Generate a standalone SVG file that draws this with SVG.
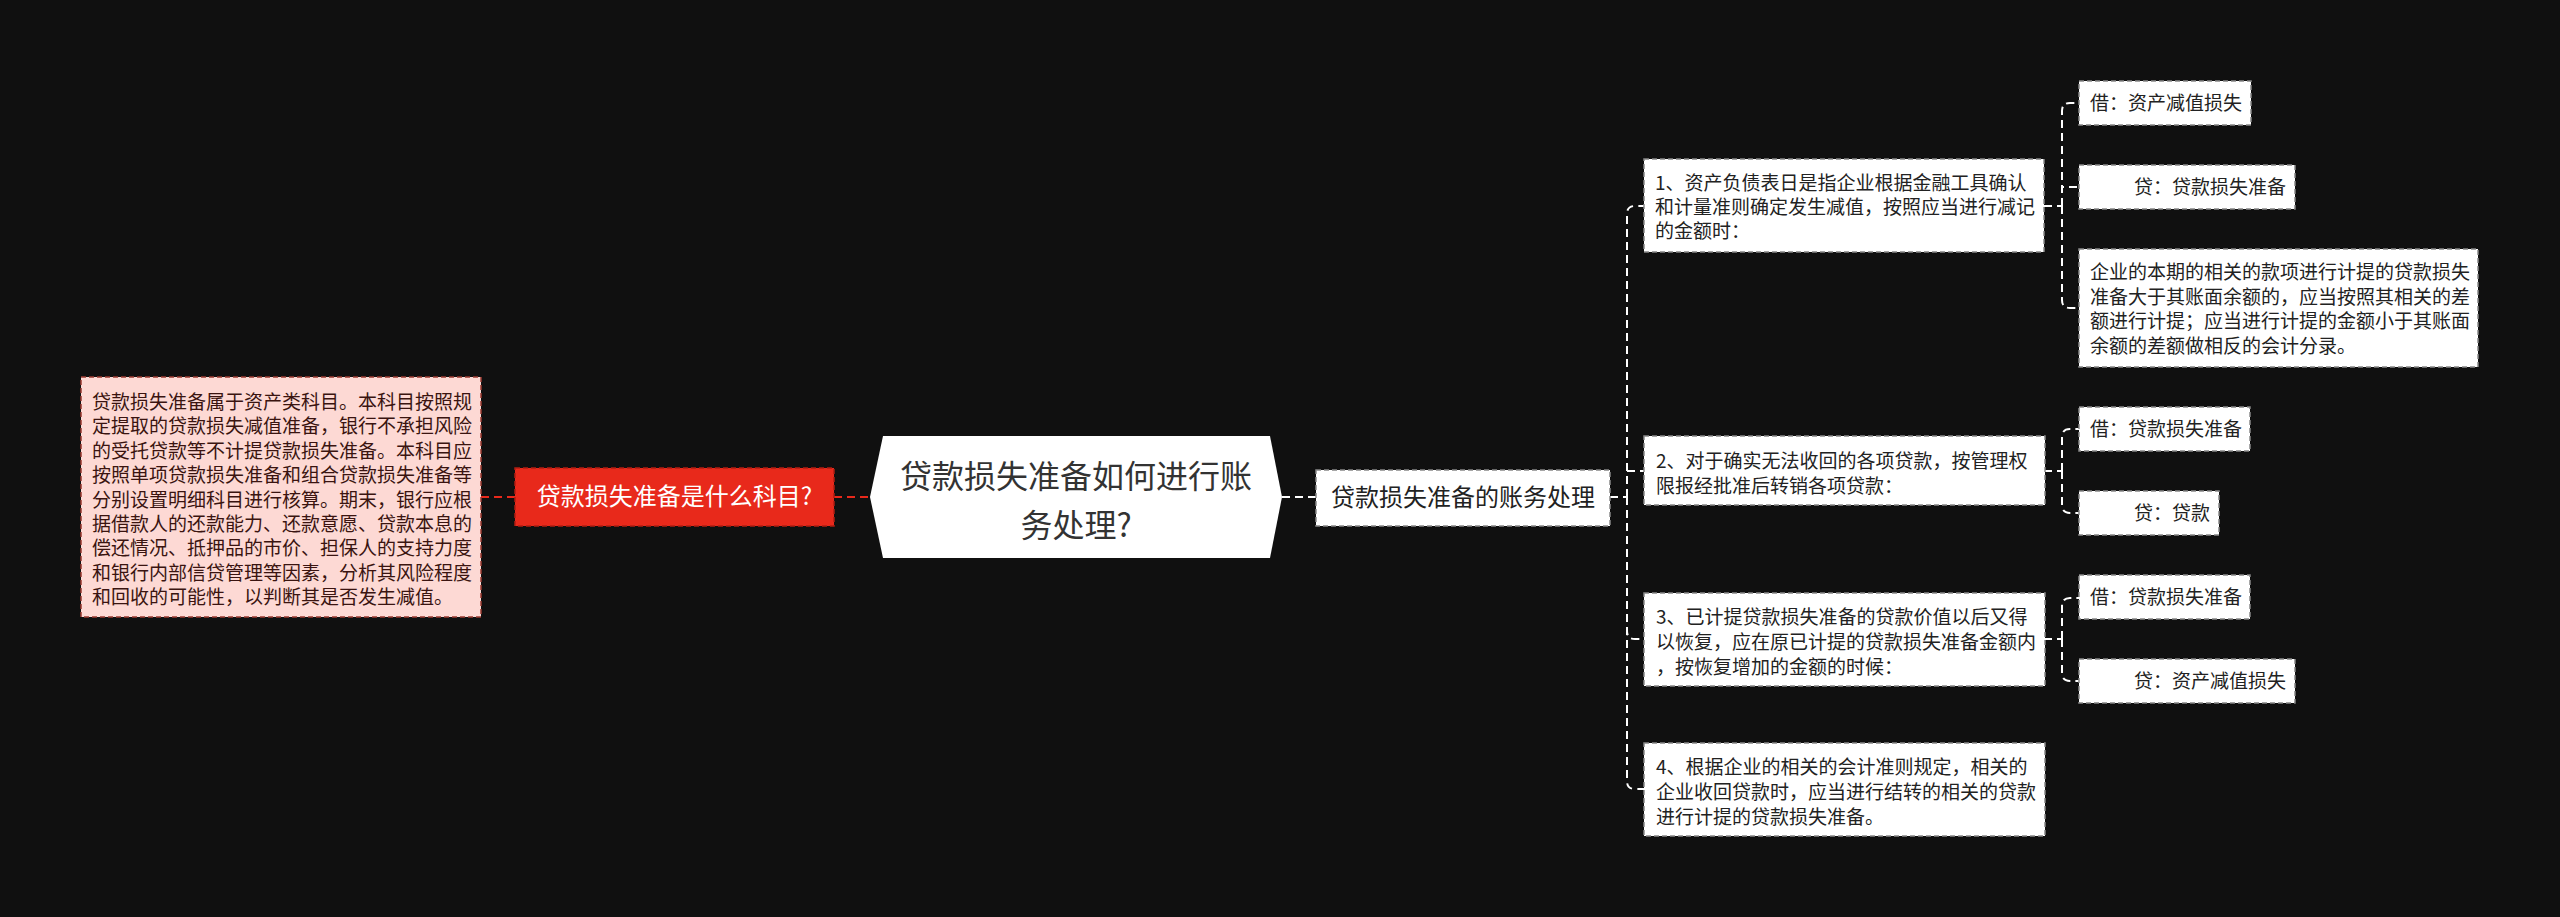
<svg xmlns="http://www.w3.org/2000/svg" width="2560" height="917" viewBox="0 0 2560 917">
<style>
text{font-family:"Noto Sans CJK SC","Noto Sans",sans-serif;}
.t19{font-size:19px;fill:#222;}
.lt{font-size:19px;fill:#3a1410;}
.box{fill:#fff;stroke:#888;stroke-width:1.5;stroke-dasharray:5 3;}
.lbox{fill:#fdd9d4;stroke:#9a3a30;stroke-width:1.5;stroke-dasharray:5 3;}
.rbox{fill:#e8291b;stroke:#b01d12;stroke-width:1.5;stroke-dasharray:5 3;}
.cw{fill:none;stroke:#fff;stroke-width:2;stroke-dasharray:8 5;}
.cr{fill:none;stroke:#e8291b;stroke-width:2;stroke-dasharray:8 5;}
</style>
<rect width="2560" height="917" fill="#101010"/>
<g id="connectors">
<path class="cr" d="M481 497 H515"/>
<path class="cr" d="M834 497 H870"/>
<path class="cw" d="M1282 497 H1316"/>
<path class="cw" d="M1610 497 H1627"/>
<path class="cw" d="M1627 497 V214 Q1627 206 1635 206 H1644"/>
<path class="cw" d="M1627 497 V471 H1644"/>
<path class="cw" d="M1627 497 V631 Q1627 639 1635 639 H1644"/>
<path class="cw" d="M1627 497 V781 Q1627 789 1635 789 H1644"/>
<path class="cw" d="M2044 206 H2062"/>
<path class="cw" d="M2062 206 V111 Q2062 103 2070 103 H2079"/>
<path class="cw" d="M2062 206 V187 H2079"/>
<path class="cw" d="M2062 206 V300 Q2062 308 2070 308 H2079"/>
<path class="cw" d="M2044 471 H2062"/>
<path class="cw" d="M2062 471 V437 Q2062 429 2070 429 H2079"/>
<path class="cw" d="M2062 471 V505 Q2062 513 2070 513 H2079"/>
<path class="cw" d="M2044 639 H2062"/>
<path class="cw" d="M2062 639 V606 Q2062 598 2070 598 H2079"/>
<path class="cw" d="M2062 639 V673 Q2062 681 2070 681 H2079"/>
</g>
<g id="left-note">
<rect class="lbox" x="81" y="377" width="400" height="240"/>
<text class="lt" x="92">
<tspan x="92" y="409">贷款损失准备属于资产类科目。本科目按照规</tspan>
<tspan x="92" y="433.4">定提取的贷款损失减值准备，银行不承担风险</tspan>
<tspan x="92" y="457.8">的受托贷款等不计提贷款损失准备。本科目应</tspan>
<tspan x="92" y="482.2">按照单项贷款损失准备和组合贷款损失准备等</tspan>
<tspan x="92" y="506.6">分别设置明细科目进行核算。期末，银行应根</tspan>
<tspan x="92" y="531">据借款人的还款能力、还款意愿、贷款本息的</tspan>
<tspan x="92" y="555.4">偿还情况、抵押品的市价、担保人的支持力度</tspan>
<tspan x="92" y="579.8">和银行内部信贷管理等因素，分析其风险程度</tspan>
<tspan x="92" y="604.2">和回收的可能性，以判断其是否发生减值。</tspan>
</text>
</g>
<g id="red-node">
<rect class="rbox" x="515" y="468" width="319" height="58"/>
<text x="674.5" y="505" text-anchor="middle" font-size="24" fill="#fff">贷款损失准备是什么科目?</text>
</g>
<g id="center">
<polygon points="870,497 883,436 1270,436 1282,497 1270,558 883,558" fill="#fff"/>
<text x="1076" y="488" text-anchor="middle" font-size="32" fill="#333">贷款损失准备如何进行账</text>
<text x="1076" y="537" text-anchor="middle" font-size="32" fill="#333">务处理?</text>
</g>
<g id="accounting">
<rect class="box" x="1316" y="470" width="294" height="56"/>
<text x="1463" y="505.5" text-anchor="middle" font-size="24" fill="#222">贷款损失准备的账务处理</text>
</g>
<g id="item1">
<rect class="box" x="1644" y="159" width="400" height="93"/>
<text class="t19"><tspan x="1655" y="190">1、资产负债表日是指企业根据金融工具确认</tspan><tspan x="1655" y="214">和计量准则确定发生减值，按照应当进行减记</tspan><tspan x="1655" y="238">的金额时：</tspan></text>
</g>
<g id="item1-debit">
<rect class="box" x="2079" y="81" width="172" height="44"/>
<text class="t19" x="2090" y="110">借：资产减值损失</text>
</g>
<g id="item1-credit">
<rect class="box" x="2079" y="165" width="216" height="44"/>
<text class="t19" x="2134" y="194">贷：贷款损失准备</text>
</g>
<g id="item1-note">
<rect class="box" x="2079" y="249" width="399" height="118"/>
<text class="t19"><tspan x="2090" y="279">企业的本期的相关的款项进行计提的贷款损失</tspan><tspan x="2090" y="303.5">准备大于其账面余额的，应当按照其相关的差</tspan><tspan x="2090" y="328">额进行计提；应当进行计提的金额小于其账面</tspan><tspan x="2090" y="352.5">余额的差额做相反的会计分录。</tspan></text>
</g>
<g id="item2">
<rect class="box" x="1644" y="436" width="401" height="69"/>
<text class="t19"><tspan x="1656" y="468">2、对于确实无法收回的各项贷款，按管理权</tspan><tspan x="1656" y="493">限报经批准后转销各项贷款：</tspan></text>
</g>
<g id="item2-debit">
<rect class="box" x="2079" y="407" width="171" height="44"/>
<text class="t19" x="2090" y="436">借：贷款损失准备</text>
</g>
<g id="item2-credit">
<rect class="box" x="2079" y="491" width="140" height="44"/>
<text class="t19" x="2134" y="520">贷：贷款</text>
</g>
<g id="item3">
<rect class="box" x="1644" y="593" width="401" height="93"/>
<text class="t19"><tspan x="1656" y="624">3、已计提贷款损失准备的贷款价值以后又得</tspan><tspan x="1656" y="649">以恢复，应在原已计提的贷款损失准备金额内</tspan><tspan x="1656" y="674">，按恢复增加的金额的时候：</tspan></text>
</g>
<g id="item3-debit">
<rect class="box" x="2079" y="575" width="171" height="44"/>
<text class="t19" x="2090" y="604">借：贷款损失准备</text>
</g>
<g id="item3-credit">
<rect class="box" x="2079" y="659" width="216" height="44"/>
<text class="t19" x="2134" y="688">贷：资产减值损失</text>
</g>
<g id="item4">
<rect class="box" x="1644" y="743" width="401" height="93"/>
<text class="t19"><tspan x="1656" y="774">4、根据企业的相关的会计准则规定，相关的</tspan><tspan x="1656" y="799">企业收回贷款时，应当进行结转的相关的贷款</tspan><tspan x="1656" y="824">进行计提的贷款损失准备。</tspan></text>
</g>
</svg>
